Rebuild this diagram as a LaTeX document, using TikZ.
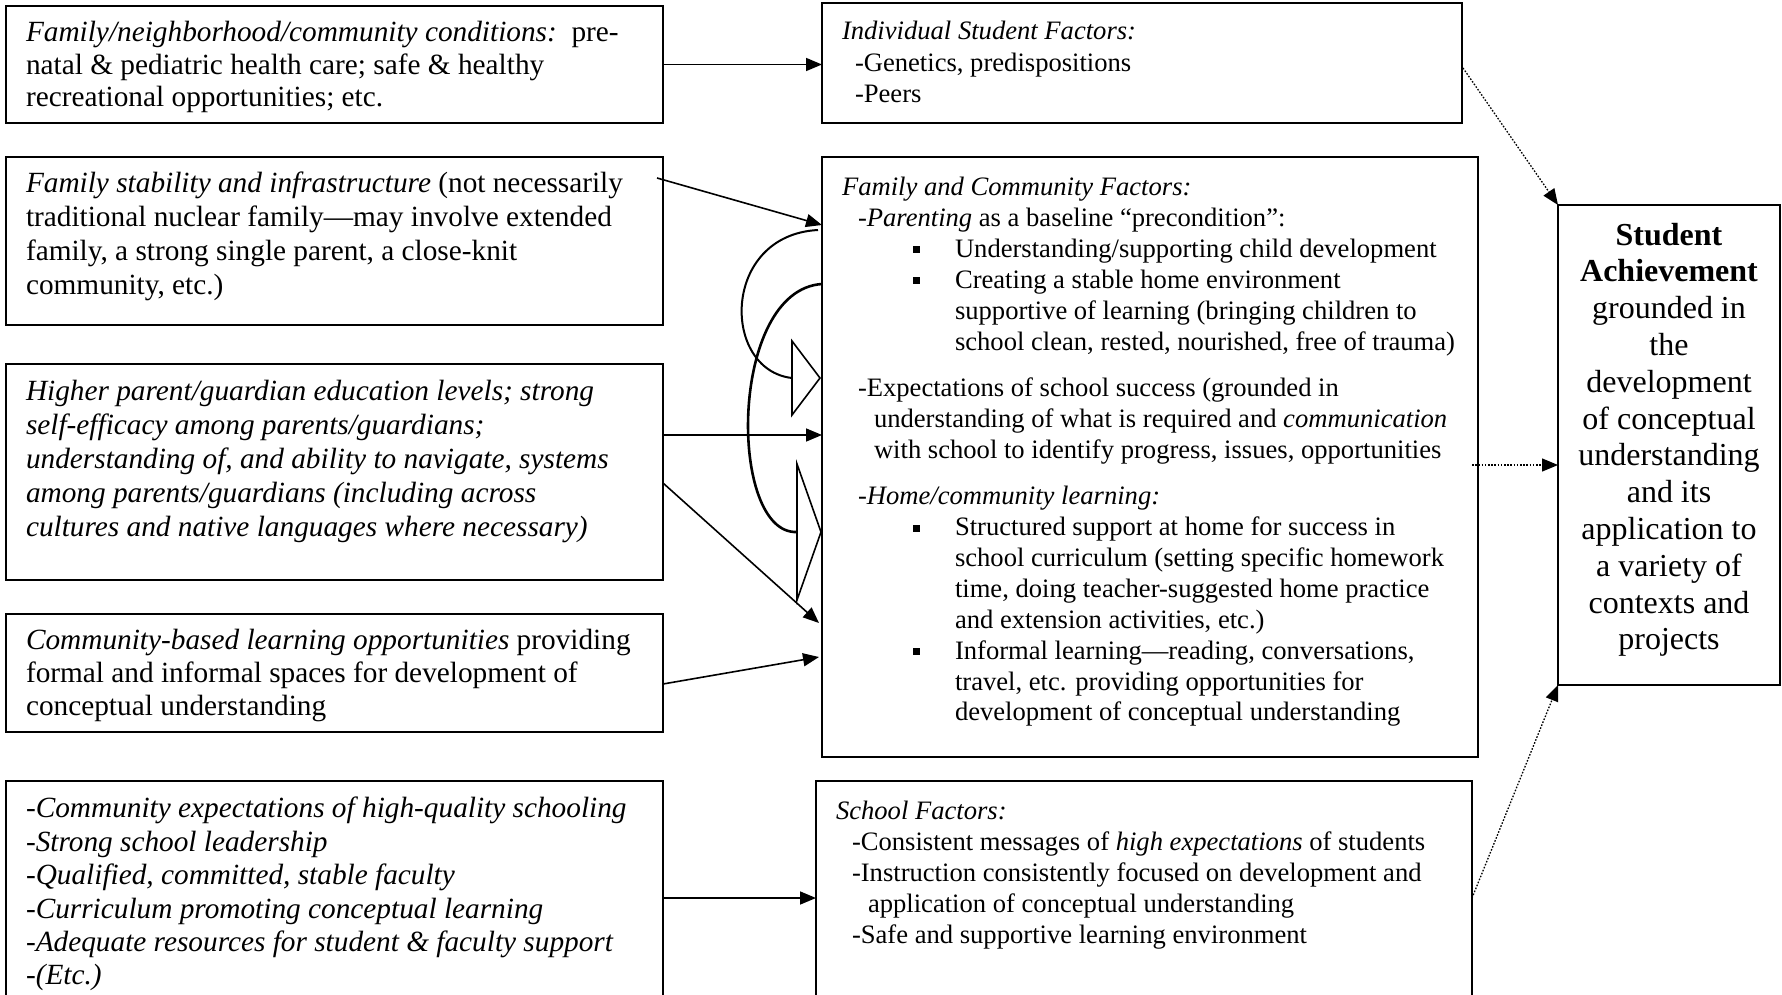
\documentclass[tikz,border=0pt]{standalone}
\usepackage{fontspec}
\setmainfont{Liberation Serif}
\usetikzlibrary{arrows.meta,calc}
\newcommand\Lf[1]{\fontsize{29.3}{#1}\selectfont}
\newcommand\Rf[1]{\fontsize{26.6}{#1}\selectfont}
\newcommand\hs[1]{\hspace*{#1pt}}
\newcommand\bul{\hspace*{71pt}\rule[4pt]{7pt}{7pt}\hspace*{35pt}}
\begin{document}
\begin{tikzpicture}[x=1pt,y=-1pt,
  box/.style={draw,line width=1.8pt,anchor=north west,inner sep=0pt,outer sep=0pt},
  txt/.style={anchor=north west,inner sep=0pt,outer sep=0pt,align=left},
  arr/.style={line width=1.6pt,-{Triangle[length=16pt,width=13pt]}},
  dotarr/.style={line width=1.3pt,dash pattern=on 1.6pt off 1.6pt,-{Triangle[length=16pt,width=13pt]}},
  hollow/.style={draw,line width=1.6pt,fill=white,line join=miter}
]
\useasboundingbox (0,0) rectangle (1782,995);
\clip (0,0) rectangle (1782,995);

% left boxes
\node[box,minimum width=657pt,minimum height=117pt] (b1) at (6,6) {};
\node[box,minimum width=657pt,minimum height=168pt] (b2) at (6,157) {};
\node[box,minimum width=657pt,minimum height=216pt] (b3) at (6,364) {};
\node[box,minimum width=657pt,minimum height=118pt] (b4) at (6,614) {};
\node[box,minimum width=657pt,minimum height=260pt] (b5) at (6,781) {};
% middle boxes
\node[box,minimum width=640pt,minimum height=120pt] (ind) at (822,3) {};
\node[box,minimum width=656pt,minimum height=600pt] (fam) at (822,157) {};
\node[box,minimum width=656pt,minimum height=260pt] (sch) at (816,781) {};
% right box
\node[box,minimum width=222pt,minimum height=480pt] (sa) at (1558,205) {};

% texts
\node[txt,font={\Lf{32.5}}] (t1) at (26,19.25) {\strut\textit{Family/neighborhood/community conditions:}\ \ pre-\\natal \& pediatric health care; safe \& healthy\\recreational opportunities; etc.};
\node[txt,font={\Lf{33.7}}] (t2) at (26,169.4) {\strut\textit{Family stability and infrastructure} (not necessarily\\traditional nuclear family---may involve extended\\family, a strong single parent, a close-knit\\community, etc.)};
\node[txt,font={\Lf{34}\itshape}] (t3) at (26,376.2) {\strut Higher parent/guardian education levels; strong\\self-efficacy among parents/guardians;\\understanding of, and ability to navigate, systems\\among parents/guardians (including across\\cultures and native languages where necessary)};
\node[txt,font={\Lf{33}}] (t4) at (26,625.9) {\strut\textit{Community-based learning opportunities} providing\\formal and informal spaces for development of\\conceptual understanding};
\node[txt,font={\Lf{33.4}\itshape}] (t5) at (26,794.6) {\strut -Community expectations of high-quality schooling\\-Strong school leadership\\-Qualified, committed, stable faculty\\-Curriculum promoting conceptual learning\\-Adequate resources for student \& faculty support\\-(Etc.)};

\node[txt,font={\Rf{31.5}}] (tind) at (842,17.95) {\strut\textit{Individual Student Factors:}\\\hs{13}-Genetics, predispositions\\\hs{13}-Peers};
\node[txt,font={\Rf{30.9}}] (tfam) at (842,173.9) {\strut\textit{Family and Community Factors:}\\
\hs{16}-\textit{Parenting} as a baseline ``precondition'':\\
\bul Understanding/supporting child development\\
\bul Creating a stable home environment\\
\hs{113}supportive of learning (bringing children to\\
\hs{113}school clean, rested, nourished, free of trauma)\\[15.5pt]
\hs{16}-Expectations of school success (grounded in\\
\hs{32}understanding of what is required and \textit{communication}\\
\hs{32}with school to identify progress, issues, opportunities\\[15.5pt]
\hs{16}\textit{-Home/community learning:}\\
\bul Structured support at home for success in\\
\hs{113}school curriculum (setting specific homework\\
\hs{113}time, doing teacher-suggested home practice\\
\hs{113}and extension activities, etc.)\\
\bul Informal learning---reading, conversations,\\
\hs{113}travel, etc. providing opportunities for\\
\hs{113}development of conceptual understanding};
\node[txt,font={\Rf{31.2}}] (tsch) at (836,797.2) {\strut\textit{School Factors:}\\
\hs{16}-Consistent messages of \textit{high expectations} of students\\
\hs{16}-Instruction consistently focused on development and\\
\hs{32}application of conceptual understanding\\
\hs{16}-Safe and supportive learning environment};
\node[anchor=north,inner sep=0pt,align=center,font={\fontsize{32}{36.8}\selectfont}] (tsa) at (1669,219.2) {\strut\textbf{Student}\\\textbf{Achievement}\\grounded in\\the\\development\\of conceptual\\understanding\\and its\\application to\\a variety of\\contexts and\\projects};

% straight arrows
\draw[arr] (b1.east) -- (ind.west |- b1.east);
\draw[arr] ($(b2.north east)+(-6,21)$) -- ($(fam.north west)+(0,68)$);
\draw[arr] ($(b3.north east)+(0,71)$) -- ($(fam.north west)+(0,278)$);
\draw[arr] ($(b3.north east)+(0,119)$) -- ($(fam.north west)+(-3,466)$);
\draw[arr] ($(b4.north east)+(0,70)$) -- ($(fam.north west)+(-3,500)$);
\draw[arr] ($(b5.north east)+(0,117)$) -- ($(sch.north west)+(0,117)$);

% curved feedback arrows
\draw[line width=2pt] ($(fam.north west)+(-4,73)$) .. controls (721,235) and (721,370) .. (792,378);
\draw[line width=2.6pt] ($(fam.north west)+(0,127)$) .. controls (728,290) and (728,535) .. (797,532);
\draw[hollow] (792,341) -- (792,415) -- (820,378) -- cycle;
\draw[hollow] (797,464) -- (797,600) -- (821,532) -- cycle;

% dotted arrows
\draw[dotarr] ($(ind.north east)+(1,65)$) -- (sa.north west);
\draw[dotarr] ($(fam.north east)+(-6,308)$) -- ($(sa.north west)+(0,260)$);
\draw[dotarr] ($(sch.north east)+(0,117)$) -- (sa.south west);
\end{tikzpicture}
\end{document}
